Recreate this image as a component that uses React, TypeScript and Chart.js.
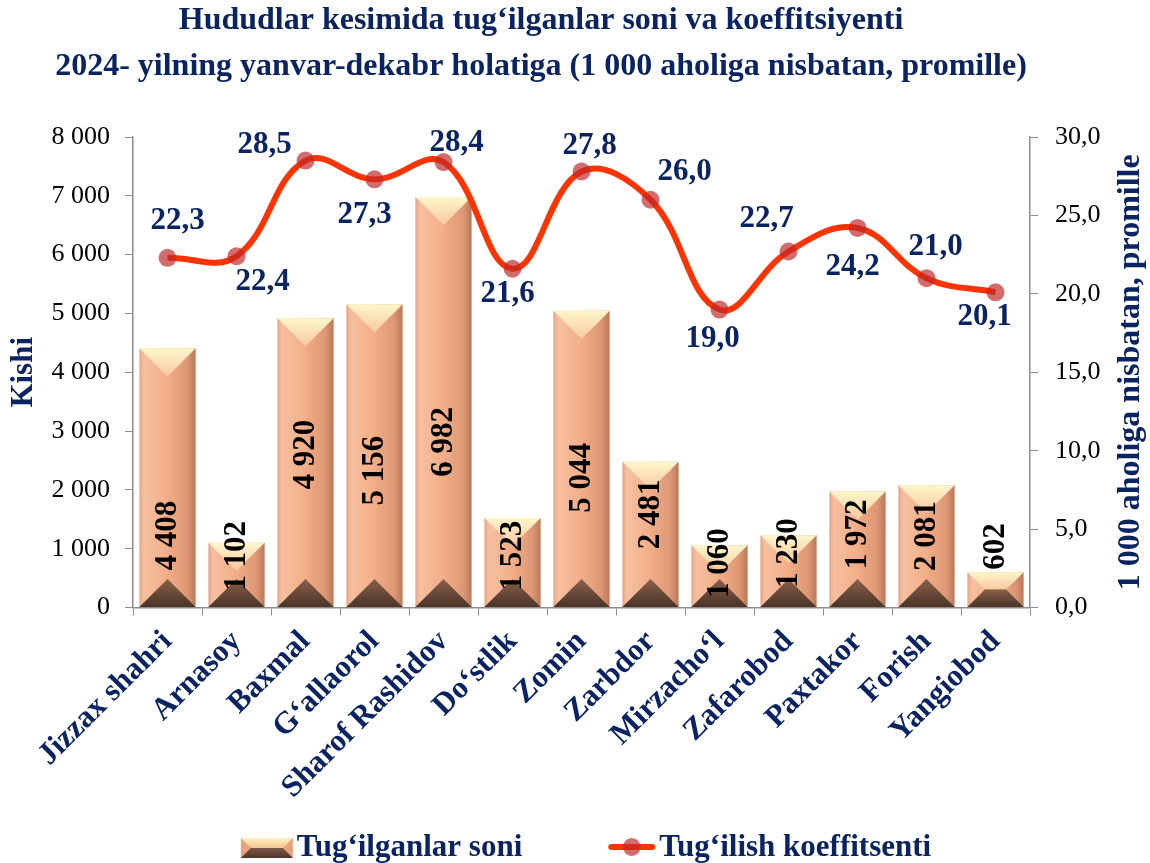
import React, { useEffect, useRef } from 'react';
import { Chart, registerables } from 'chart.js';

Chart.register(...registerables);

// ---------- data ----------
const categories = [
  'Jizzax shahri', 'Arnasoy', 'Baxmal', 'G‘allaorol', 'Sharof Rashidov', 'Do‘stlik',
  'Zomin', 'Zarbdor', 'Mirzacho‘l', 'Zafarobod', 'Paxtakor', 'Forish', 'Yangiobod',
];
const births = [4408, 1102, 4920, 5156, 6982, 1523, 5044, 2481, 1060, 1230, 1972, 2081, 602];
const rates = [22.3, 22.4, 28.5, 27.3, 28.4, 21.6, 27.8, 26.0, 19.0, 22.7, 24.2, 21.0, 20.1];
const countTicks = [0, 1000, 2000, 3000, 4000, 5000, 6000, 7000, 8000];
const rateTicks = [0, 5, 10, 15, 20, 25, 30];
const seriesNames = ['Tug‘ilganlar soni', 'Tug‘ilish koeffitsenti'];
const titleLines = [
  'Hududlar kesimida tug‘ilganlar soni va koeffitsiyenti',
  '2024- yilning yanvar-dekabr holatiga (1 000 aholiga nisbatan, promille)',
];
const leftAxisTitle = 'Kishi';
const rightAxisTitle = '1 000 aholiga nisbatan, promille';

// ---------- style ----------
const FAMILY = "'Liberation Serif', 'Times New Roman', serif";
const NAVY = '#0A2463';
const AXIS = '#8c8c8c';
const LINE_RED = '#FF3300';
const POINT_RED = 'rgba(190, 40, 40, 0.68)';
const rateLabelDx = [10, 26, -41, -10, 13, -5, 8, 34, -7, -22, -5, 9, -11];
const rateLabelDy = [-37, 26, -16, 36, -19, 25, -26, -28, 29, -33, 39, -31, 25];
const barLabelShift = [58, -19, -8, 15, 40, -7, 19, -20, -13, -18, -15, -10, -43];
const BAR_FRACTION = 0.815;

const fmtCount = (v: number) => String(Math.round(v)).replace(/\B(?=(\d{3})+(?!\d))/g, ' ');
const fmtRate = (v: number) => v.toFixed(1).replace('.', ',');

function drawBarIcon(ctx: CanvasRenderingContext2D, x: number, y: number, w: number, h: number) {
  const d = h / 2;
  let g = ctx.createLinearGradient(0, y, 0, y + d);
  g.addColorStop(0, '#FFF3C6');
  g.addColorStop(1, '#F2C48E');
  ctx.fillStyle = '#E9A27E';
  ctx.fillRect(x, y, w, h);
  ctx.fillStyle = g;
  ctx.beginPath();
  ctx.moveTo(x, y); ctx.lineTo(x + w, y); ctx.lineTo(x + w - d, y + d); ctx.lineTo(x + d, y + d);
  ctx.closePath(); ctx.fill();
  g = ctx.createLinearGradient(0, y + h, 0, y + d);
  g.addColorStop(0, '#4A3428');
  g.addColorStop(1, '#7E5A46');
  ctx.fillStyle = g;
  ctx.beginPath();
  ctx.moveTo(x, y + h); ctx.lineTo(x + w, y + h); ctx.lineTo(x + w - d, y + d); ctx.lineTo(x + d, y + d);
  ctx.closePath(); ctx.fill();
}

const decorPlugin = {
  id: 'decor',
  afterDatasetDraw(chart: any, args: any) {
    if (args.index !== 0) return;
    const ctx: CanvasRenderingContext2D = chart.ctx;
    const area = chart.chartArea;
    ctx.save();
    ctx.beginPath();
    ctx.rect(area.left, area.top, area.right - area.left, area.bottom - area.top);
    ctx.clip();
    args.meta.data.forEach((bar: any) => {
      const { x, y, base, width } = bar.getProps(['x', 'y', 'base', 'width'], true);
      const x0 = x - width / 2;
      const x1 = x + width / 2;
      const h = base - y;
      const d = Math.min(width / 2, h / 2);
      // top cap
      let g = ctx.createLinearGradient(0, y, 0, y + d);
      g.addColorStop(0, '#FFF6CC');
      g.addColorStop(1, '#F7C9A0');
      ctx.fillStyle = g;
      ctx.beginPath();
      ctx.moveTo(x0, y); ctx.lineTo(x1, y); ctx.lineTo(x1 - d, y + d); ctx.lineTo(x0 + d, y + d);
      ctx.closePath(); ctx.fill();
      // bottom pyramid
      g = ctx.createLinearGradient(0, base, 0, base - d);
      g.addColorStop(0, '#4A3428');
      g.addColorStop(1, '#8A604A');
      ctx.fillStyle = g;
      ctx.beginPath();
      ctx.moveTo(x0, base); ctx.lineTo(x1, base); ctx.lineTo(x1 - d, base - d); ctx.lineTo(x0 + d, base - d);
      ctx.closePath(); ctx.fill();
    });
    ctx.restore();
  },
  afterDatasetsDraw(chart: any) {
    const ctx: CanvasRenderingContext2D = chart.ctx;
    ctx.save();
    // bar value labels
    ctx.font = `bold 31px ${FAMILY}`;
    ctx.fillStyle = '#000';
    ctx.textAlign = 'center';
    ctx.textBaseline = 'middle';
    const barMeta = chart.getDatasetMeta(0);
    barMeta.data.forEach((bar: any, i: number) => {
      const { x, y, base } = bar.getProps(['x', 'y', 'base'], true);
      const txt = fmtCount(births[i]);
      const cy = (y + base) / 2 + barLabelShift[i];
      ctx.save();
      ctx.translate(x, cy);
      ctx.rotate(-Math.PI / 2);
      ctx.fillText(txt, 0, 0);
      ctx.restore();
    });
    // rate labels
    ctx.fillStyle = NAVY;
    const lineMeta = chart.getDatasetMeta(1);
    lineMeta.data.forEach((pt: any, i: number) => {
      const { x, y } = pt.getProps(['x', 'y'], true);
      ctx.fillText(fmtRate(rates[i]), x + rateLabelDx[i], y + rateLabelDy[i]);
    });
    ctx.restore();
  },
  afterDraw(chart: any) {
    const ctx: CanvasRenderingContext2D = chart.ctx;
    const sy = chart.scales.y;
    const s = chart.scales.y1;

    // chart title
    ctx.save();
    ctx.font = `bold 32px ${FAMILY}`;
    ctx.fillStyle = NAVY;
    ctx.textAlign = 'center';
    ctx.textBaseline = 'middle';
    ctx.fillText(titleLines[0], 541, 21);
    ctx.fillText(titleLines[1], 541, 67);
    ctx.restore();

    // left axis title
    ctx.save();
    ctx.font = `bold 31px ${FAMILY}`;
    ctx.fillStyle = NAVY;
    ctx.textAlign = 'center';
    ctx.textBaseline = 'middle';
    ctx.translate(sy.left + 22, (sy.top + sy.bottom) / 2);
    ctx.rotate(-Math.PI / 2);
    ctx.fillText(leftAxisTitle, 0, 0);
    ctx.restore();

    // right axis title (reads bottom to top)
    ctx.save();
    ctx.font = `bold 32px ${FAMILY}`;
    ctx.fillStyle = NAVY;
    ctx.textAlign = 'center';
    ctx.textBaseline = 'middle';
    ctx.translate(s.right - 17, (s.top + s.bottom) / 2);
    ctx.rotate(-Math.PI / 2);
    ctx.fillText(rightAxisTitle, 0, 0);
    ctx.restore();

    // legend
    ctx.save();
    ctx.font = `bold 31px ${FAMILY}`;
    ctx.fillStyle = NAVY;
    ctx.textBaseline = 'middle';
    ctx.textAlign = 'left';
    const iconW = 52;
    const gap = 4;
    const spacing = 86;
    const t1 = ctx.measureText(seriesNames[0]).width;
    const t2 = ctx.measureText(seriesNames[1]).width;
    const total = iconW + gap + t1 + spacing + iconW - 5 + gap + t2;
    let lx = chart.width / 2 + 11 - total / 2;
    const ly = chart.height - 16;
    drawBarIcon(ctx, lx, ly - 9, iconW, 20);
    lx += iconW + gap;
    ctx.fillStyle = NAVY;
    ctx.fillText(seriesNames[0], lx, ly + 1);
    lx += t1 + spacing;
    ctx.strokeStyle = LINE_RED;
    ctx.lineWidth = 6;
    ctx.lineCap = 'round';
    ctx.beginPath();
    ctx.moveTo(lx + 3, ly);
    ctx.lineTo(lx + iconW - 8, ly);
    ctx.stroke();
    ctx.fillStyle = POINT_RED;
    ctx.beginPath();
    ctx.arc(lx + (iconW - 5) / 2, ly, 9, 0, Math.PI * 2);
    ctx.fill();
    lx += iconW - 5 + gap;
    ctx.fillStyle = NAVY;
    ctx.fillText(seriesNames[1], lx, ly + 1);
    ctx.restore();
  },
};

export default function App() {
  const canvasRef = useRef<HTMLCanvasElement | null>(null);

  useEffect(() => {
    const canvas = canvasRef.current;
    if (!canvas) return;
    const nCat = categories.length;

    const barGradient = (c: any) => {
      const chart = c.chart;
      const xs = chart.scales && chart.scales.x;
      if (!xs || c.type !== 'data' || !isFinite(xs.width)) return '#F2B08C';
      const cx = xs.getPixelForValue(c.dataIndex);
      const half = (xs.width / nCat) * BAR_FRACTION / 2;
      const g = chart.ctx.createLinearGradient(cx - half, 0, cx + half, 0);
      g.addColorStop(0, '#E7A383');
      g.addColorStop(0.08, '#F6C0A0');
      g.addColorStop(0.45, '#F3B08A');
      g.addColorStop(0.85, '#DE9774');
      g.addColorStop(1, '#B9785A');
      return g;
    };

    const chart = new Chart(canvas, {
      type: 'bar',
      data: {
        labels: categories,
        datasets: [
          {
            type: 'bar',
            label: seriesNames[0],
            data: births,
            yAxisID: 'y',
            backgroundColor: barGradient,
            borderWidth: 0,
            categoryPercentage: 1,
            barPercentage: BAR_FRACTION,
            order: 1,
          },
          {
            type: 'line',
            label: seriesNames[1],
            data: rates,
            yAxisID: 'y1',
            borderColor: LINE_RED,
            borderWidth: 6,
            tension: 0.4,
            pointRadius: 9,
            pointBackgroundColor: POINT_RED,
            pointBorderWidth: 0,
            pointHoverRadius: 9,
            order: 0,
          },
        ],
      } as any,
      plugins: [decorPlugin],
      options: {
        responsive: false,
        animation: false,
        events: [],
        layout: { padding: { left: 2, right: 2, top: 137, bottom: 49 } },
        plugins: {
          legend: { display: false },
          tooltip: { enabled: false },
          title: { display: false },
        },
        scales: {
          x: {
            offset: true,
            grid: { display: true, drawOnChartArea: false, tickLength: 8, color: AXIS, offset: true },
            border: { color: AXIS, width: 1.5 },
            ticks: {
              autoSkip: false,
              minRotation: 45,
              maxRotation: 45,
              padding: 8,
              color: NAVY,
              font: { family: FAMILY, size: 31, weight: 'bold' },
            },
          },
          y: {
            position: 'left',
            min: 0,
            max: 8000,
            afterBuildTicks: (s: any) => { s.ticks = countTicks.map((v) => ({ value: v })); },
            afterFit: (s: any) => { s.width = 131; },
            grid: { display: true, drawOnChartArea: false, tickLength: 8, color: AXIS },
            border: { color: AXIS, width: 1.5 },
            ticks: {
              padding: 15,
              color: '#000',
              font: { family: FAMILY, size: 26 },
              callback: (v: any) => fmtCount(Number(v)),
            },
          },
          y1: {
            position: 'right',
            min: 0,
            max: 30,
            afterBuildTicks: (s: any) => { s.ticks = rateTicks.map((v) => ({ value: v })); },
            afterFit: (s: any) => { s.width = 118; },
            grid: { display: true, drawOnChartArea: false, tickLength: 8, color: AXIS },
            border: { color: AXIS, width: 1.5 },
            ticks: {
              padding: 17,
              color: '#000',
              font: { family: FAMILY, size: 26 },
              callback: (v: any) => fmtRate(Number(v)),
            },
          },
        },
      } as any,
    });

    return () => chart.destroy();
  }, []);

  return (
    <div style={{ position: 'fixed', left: 0, top: 0, width: 1150, height: 863, background: '#fff' }}>
      <canvas ref={canvasRef} width={1150} height={863} style={{ display: 'block' }} />
    </div>
  );
}
